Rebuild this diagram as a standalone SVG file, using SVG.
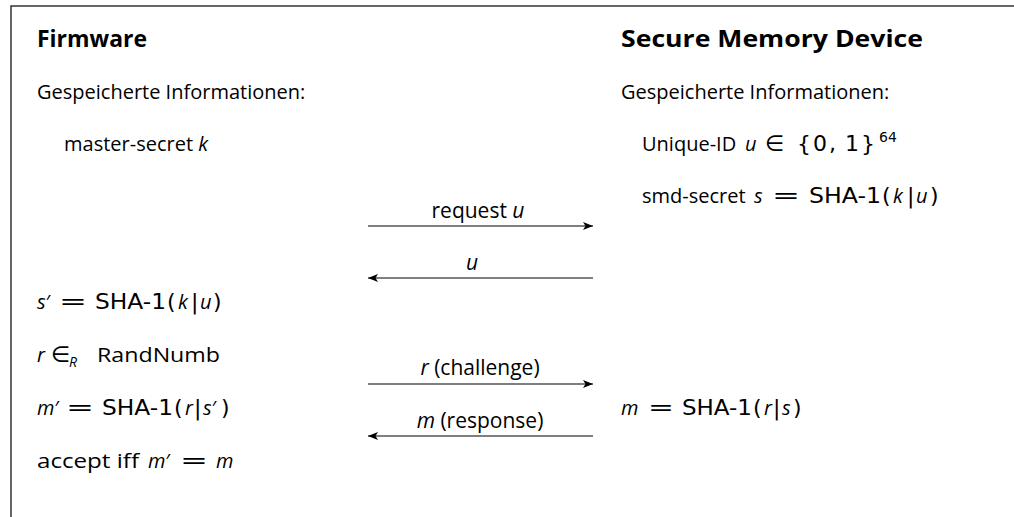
<svg xmlns="http://www.w3.org/2000/svg" width="1014" height="517" viewBox="0 0 1014 517">
<style>
text{font-family:"Open Sans","DejaVu Sans",sans-serif;font-size:20px;fill:#000;font-variant-ligatures:none}
.b{font-weight:bold;font-size:22.5px}
.i{font-style:italic}
.m{font-family:"DejaVu Sans",sans-serif;font-size:22px}
.eq{font-family:"DejaVu Sans",sans-serif;font-size:21px}
.sm{font-size:14px}
.lbl{text-anchor:middle;font-size:21px}
.conn line{stroke:#000;stroke-width:1.2}
.frame{fill:none;stroke:#333;stroke-width:1.5}
</style>
<defs>
<marker id="ah" markerWidth="11" markerHeight="8" refX="10" refY="4" orient="auto" markerUnits="userSpaceOnUse">
<path d="M0,0 L10,4 L0,8 L2.5,4 Z" fill="#000"/>
</marker>
</defs>
<rect width="1014" height="517" fill="#fff"/>
<path class="frame" d="M11,517 V6 H1014"/>

<g id="firmware">
<text class="b" x="37" y="47" textLength="110" lengthAdjust="spacingAndGlyphs">Firmware</text>
<text x="37" y="99">Gespeicherte Informationen:</text>
<text x="64" y="151">master-secret <tspan class="i">k</tspan></text>
<text x="37" y="309"><tspan class="i">s</tspan>′<tspan class="eq" x="59" textLength="28" lengthAdjust="spacingAndGlyphs">=</tspan><tspan class="m" x="95" textLength="71" lengthAdjust="spacingAndGlyphs">SHA-1</tspan><tspan class="m" x="167">(</tspan><tspan class="i" x="178">k</tspan><tspan class="m" x="191">|</tspan><tspan class="i" x="200">u</tspan><tspan class="m" x="213">)</tspan></text>
<text x="37" y="362"><tspan class="i">r</tspan><tspan class="m" x="51">∈</tspan><tspan class="i sm" x="69" dy="5">R</tspan><tspan x="97" dy="-5" textLength="123" lengthAdjust="spacingAndGlyphs">RandNumb</tspan></text>
<text x="37" y="415"><tspan class="i">m</tspan>′<tspan class="eq" x="66" textLength="28" lengthAdjust="spacingAndGlyphs">=</tspan><tspan class="m" x="102" textLength="71" lengthAdjust="spacingAndGlyphs">SHA-1</tspan><tspan class="m" x="174">(</tspan><tspan class="i" x="185">r</tspan><tspan class="m" x="194">|</tspan><tspan class="i" x="203">s</tspan>′<tspan class="m" x="221">)</tspan></text>
<text x="37" y="468"><tspan textLength="102" lengthAdjust="spacingAndGlyphs">accept iff</tspan><tspan class="i" x="148">m</tspan>′<tspan class="eq" x="180" textLength="28" lengthAdjust="spacingAndGlyphs">=</tspan><tspan class="i" x="216">m</tspan></text>
</g>

<g id="smd">
<text class="b" x="621" y="47" textLength="302" lengthAdjust="spacingAndGlyphs">Secure Memory Device</text>
<text x="621" y="99">Gespeicherte Informationen:</text>
<text x="642" y="151">Unique-ID<tspan class="i" x="745">u</tspan><tspan class="m" x="765">∈</tspan><tspan class="m" x="797">{</tspan><tspan class="m" x="813">0</tspan><tspan class="m" x="829">,</tspan><tspan class="m" x="845">1</tspan><tspan class="m" x="861">}</tspan><tspan class="m sm" x="879" dy="-9" font-size="16">64</tspan></text>
<text x="642" y="203">smd-secret<tspan class="i" x="754">s</tspan><tspan class="eq" x="772" textLength="28" lengthAdjust="spacingAndGlyphs">=</tspan><tspan class="m" x="809" textLength="72" lengthAdjust="spacingAndGlyphs">SHA-1</tspan><tspan class="m" x="882">(</tspan><tspan class="i" x="893">k</tspan><tspan class="m" x="907">|</tspan><tspan class="i" x="916">u</tspan><tspan class="m" x="930">)</tspan></text>
<text x="621" y="415"><tspan class="i">m</tspan><tspan class="eq" x="648" textLength="26" lengthAdjust="spacingAndGlyphs">=</tspan><tspan class="m" x="682" textLength="70" lengthAdjust="spacingAndGlyphs">SHA-1</tspan><tspan class="m" x="753">(</tspan><tspan class="i" x="764">r</tspan><tspan class="m" x="773">|</tspan><tspan class="i" x="782">s</tspan><tspan class="m" x="793">)</tspan></text>
</g>

<g id="connectors" class="conn">
<line x1="368" y1="226" x2="593" y2="226" marker-end="url(#ah)"/>
<line x1="593" y1="278" x2="368" y2="278" marker-end="url(#ah)"/>
<line x1="368" y1="384" x2="593" y2="384" marker-end="url(#ah)"/>
<line x1="593" y1="436" x2="368" y2="436" marker-end="url(#ah)"/>
<text class="lbl" x="478" y="218">request <tspan class="i">u</tspan></text>
<text class="lbl" x="472" y="270"><tspan class="i">u</tspan></text>
<text class="lbl" x="480" y="375"><tspan class="i">r</tspan> (challenge)</text>
<text class="lbl" x="480" y="428"><tspan class="i">m</tspan> (response)</text>
</g>
</svg>
